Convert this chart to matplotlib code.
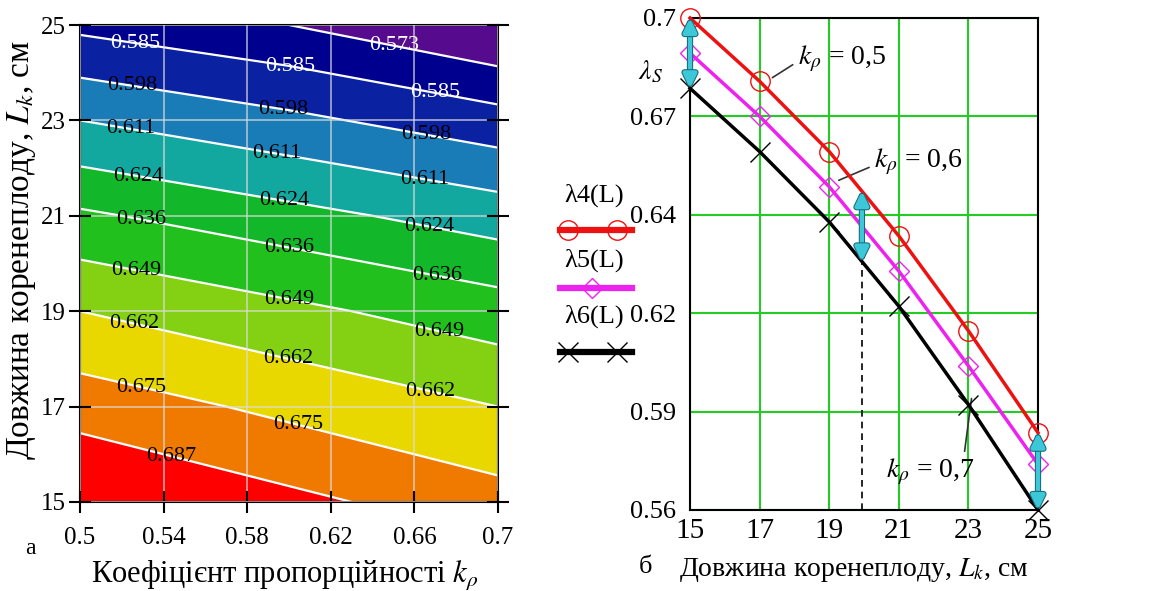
import numpy as np
import matplotlib
matplotlib.use('Agg')
import matplotlib.pyplot as plt
from matplotlib.lines import Line2D
import matplotlib.patheffects as pe

plt.rcParams['font.family'] = ['Liberation Serif', 'DejaVu Serif']
plt.rcParams['mathtext.fontset'] = 'stix'

# ---------------- data ----------------
kp_vals = [0.5, 0.6, 0.7]
L_vals = [15, 17, 19, 21, 23, 25]
lam_kp05 = [0.700, 0.682, 0.662, 0.638, 0.611, 0.582]
lam_kp06 = [0.690, 0.672, 0.652, 0.628, 0.601, 0.573]
lam_kp07 = [0.680, 0.662, 0.642, 0.618, 0.590, 0.560]

contour_levels = [0.573, 0.585, 0.598, 0.611, 0.624, 0.636, 0.649, 0.662, 0.675, 0.687]
band_colors = ['#560a8e', '#00008e', '#0a22a2', '#1a7cb6', '#12a8a0', '#12b82a',
               '#22c01c', '#84d012', '#e8d800', '#f07a00', '#ff0000']
label_colors = ['white', 'white', 'black', 'black', 'black', 'black',
                'black', 'black', 'black', 'black']
label_positions = [
    (0.526, 24.5), (0.650, 24.55), (0.600, 24.05), (0.670, 23.55),
    (0.525, 23.7), (0.597, 23.2), (0.666, 22.75),
    (0.524, 22.8), (0.594, 22.3), (0.665, 21.8),
    (0.528, 21.9), (0.598, 21.37), (0.667, 20.8),
    (0.529, 20.87), (0.600, 20.32), (0.671, 19.76),
    (0.527, 19.9), (0.600, 19.23), (0.672, 18.65),
    (0.526, 18.77), (0.600, 18.12), (0.668, 17.41),
    (0.530, 17.52), (0.605, 16.76),
    (0.544, 16.05),
]
kp_ticks = [0.5, 0.54, 0.58, 0.62, 0.66, 0.7]
kp_tick_labels = ['0.5', '0.54', '0.58', '0.62', '0.66', '0.7']
L_ticks = [15, 17, 19, 21, 23, 25]
lam_ticks = [0.56, 0.588, 0.616, 0.644, 0.672, 0.7]
lam_tick_labels = ['0.56', '0.59', '0.62', '0.64', '0.67', '0.7']
series_names = ['λ4(L)', 'λ5(L)', 'λ6(L)']
series_colors = ['#ee1111', '#ee22ee', '#000000']
kp_annot = ['0,5', '0,6', '0,7']
L_mark = 19.94

# ---------------- figure ----------------
fig = plt.figure(figsize=(11.5, 5.91), dpi=100)
W, H = 1150, 591

def fx(px):
    return px / W

def fy(py):
    return 1 - py / H

# ---- left panel: contour ----
axL = fig.add_axes([fx(80), fy(502), fx(498) - fx(80), fy(25) - fy(502)])
Z = np.column_stack([lam_kp05, lam_kp06, lam_kp07])
all_levels = [0.50] + contour_levels + [0.75]
axL.contourf(kp_vals, L_vals, Z, levels=all_levels, colors=band_colors)
cs = axL.contour(kp_vals, L_vals, Z, levels=contour_levels, colors='white', linewidths=1.6)
axL.clabel(cs, contour_levels, inline=False, fmt='%.3f', fontsize=16,
           colors=label_colors, manual=label_positions)
for t in cs.labelTexts:
    t.set_rotation(0)
axL.set_xlim(0.5, 0.7)
axL.set_ylim(15, 25)
axL.set_xticks(kp_ticks)
axL.set_xticklabels(kp_tick_labels)
axL.set_yticks(L_ticks)
axL.set_axisbelow(False)
axL.grid(True, color='#dcdcdc', alpha=0.75, lw=1.2)
axL.tick_params(axis='both', direction='inout', length=16, width=1.5, labelsize=18,
                right=True, top=False)
axL.tick_params(axis='x', pad=10)
axL.tick_params(axis='y', pad=2)
for s in axL.spines.values():
    s.set_linewidth(1.5)

fig.text(fx(30), fy(548), 'а', fontsize=17, ha='center', va='center')
fig.text(fx(285), fy(576), r'Коефіцієнт пропорційності $k_{\rho}$', fontsize=22,
         ha='center', va='center')
fig.text(fx(22), fy(250), r'Довжина коренеплоду, $L_k$, см', fontsize=24,
         ha='center', va='center', rotation=90)

# ---- right panel: lines ----
axR = fig.add_axes([fx(690), fy(510), fx(1038) - fx(690), fy(18) - fy(510)])
axR.set_xlim(15, 25)
axR.set_ylim(0.56, 0.7)
axR.set_xticks(L_ticks)
axR.set_yticks(lam_ticks)
axR.set_yticklabels(lam_tick_labels)
axR.grid(True, color='#22cc22', lw=1.5)
axR.tick_params(axis='both', length=0)
axR.tick_params(axis='x', labelsize=21, pad=6)
axR.tick_params(axis='y', labelsize=19, pad=10)
for s in axR.spines.values():
    s.set_linewidth(1.5)

series = [lam_kp05, lam_kp06, lam_kp07]
markers = ['o', 'D', 'x']
msizes = [14, 10, 15]
for vals, c, m, ms in zip(series, series_colors, markers, msizes):
    if m == 'x':
        axR.plot(L_vals, vals, color=c, lw=2.5, marker=m, ms=ms, mec=c, mew=1.0,
                 clip_on=False, zorder=4)
    else:
        axR.plot(L_vals, vals, color=c, lw=2.5, marker=m, ms=ms, mfc='none', mec=c,
                 mew=1.0, clip_on=False, zorder=4)

# annotations
ann_kw = dict(fontsize=20, va='center')
axR.annotate(r'$k_{\rho}$ = ' + kp_annot[0], xy=(17.3, 0.6826), xytext=(18.1, 0.6885),
             ha='left', arrowprops=dict(arrowstyle='-', color='#333333', lw=1.2,
                                        relpos=(0, 0.4)), **ann_kw)
axR.annotate(r'$k_{\rho}$ = ' + kp_annot[1], xy=(19.2, 0.6535), xytext=(20.3, 0.659),
             ha='left', arrowprops=dict(arrowstyle='-', color='#333333', lw=1.2,
                                        relpos=(0, 0.4)), **ann_kw)
axR.annotate(r'$k_{\rho}$ = ' + kp_annot[2], xy=(23.1, 0.5925), xytext=(21.9, 0.5708),
             ha='center', arrowprops=dict(arrowstyle='-', color='#333333', lw=1.2,
                                          relpos=(0.88, 1.0)), **ann_kw)

# span arrows and dashed line
top_mid = np.interp(L_mark, L_vals, lam_kp05)
bot_mid = np.interp(L_mark, L_vals, lam_kp07)
spans = [(L_vals[0], lam_kp05[0], lam_kp07[0]),
         (L_mark, top_mid, bot_mid),
         (L_vals[-1], lam_kp05[-1], lam_kp07[-1])]
for xx, y1, y2 in spans:
    a = axR.annotate('', xy=(xx, y2), xytext=(xx, y1),
                     arrowprops=dict(arrowstyle='<|-|>,head_length=0.45,head_width=0.22',
                                     color='#3cc8d8', lw=3, shrinkA=0, shrinkB=0,
                                     mutation_scale=18),
                     annotation_clip=False, zorder=6)
    a.arrow_patch.set_path_effects([pe.Stroke(linewidth=4.5, foreground='#1a6a7a'), pe.Normal()])
axR.plot([L_mark, L_mark], [0.56, bot_mid], color='black', lw=1.2, ls=(0, (4, 3)), zorder=3)

fig.text(fx(650), fy(72), r'$\lambda_S$', fontsize=20, ha='center', va='center')
fig.text(fx(645), fy(567), 'б', fontsize=19, ha='center', va='center')
fig.text(fx(854), fy(570), r'Довжина коренеплоду, $L_k$, см', fontsize=20,
         ha='center', va='center')

# ---- legend (Mathcad style: name above line sample) ----
leg_text_y = [195, 260, 316]
leg_line_y = [230, 288, 352]
leg_marker_x = [[568, 617], [592], [568, 617]]
for name, c, m, ms, ty, ly, mx in zip(series_names, series_colors, markers, msizes,
                                      leg_text_y, leg_line_y, leg_marker_x):
    fig.text(fx(594), fy(ty), name, fontsize=19, ha='center', va='center')
    fig.add_artist(Line2D([fx(560), fx(632)], [fy(ly), fy(ly)], color=c, lw=4.5,
                          transform=fig.transFigure))
    fig.add_artist(Line2D([fx(v) for v in mx], [fy(ly)] * len(mx), ls='none', marker=m,
                          ms=ms, mfc='none', mec=c, mew=1.0, transform=fig.transFigure))

fig.savefig('out.png', dpi=100)
